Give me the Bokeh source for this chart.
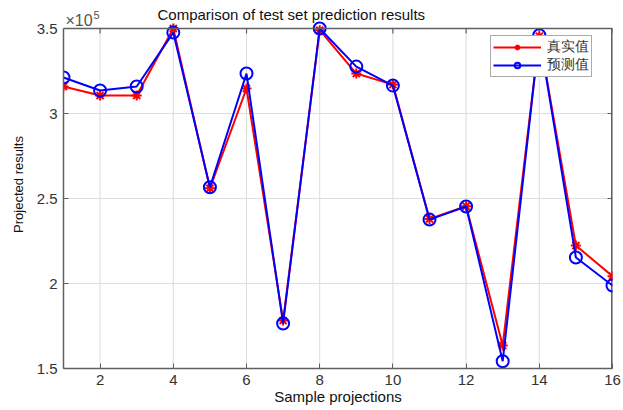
import math
from bokeh.plotting import figure
from bokeh.models import Legend, LegendItem, Label, Range1d, FixedTicker, Span
from bokeh.embed import file_html
from bokeh.resources import INLINE

# Test-set samples and values
samples = list(range(1, 17))
true_values = [315900, 310600, 310600, 350000, 256000, 314700, 178200, 349000,
               323500, 317000, 238000, 245500, 163500, 345500, 222300, 204300]
pred_values = [321200, 313500, 315900, 347600, 256600, 323500, 176500, 350000,
               327600, 316400, 237600, 245300, 154300, 346000, 215300, 198800]
x_ticks = [2, 4, 6, 8, 10, 12, 14, 16]
y_ticks = [1.5, 2.0, 2.5, 3.0, 3.5]
scale = 1e5

true_s = [v / scale for v in true_values]
pred_s = [v / scale for v in pred_values]

FONT = "Liberation Sans"
AXIS_COL = "#606060"

X_MIN, X_MAX = 1, 16
Y_MIN, Y_MAX = 1.5, 3.5
BOX_H = 340          # pixel height of the axes box
TOP_PAD = 28         # room above the box for title and exponent
y_top = Y_MAX + TOP_PAD * (Y_MAX - Y_MIN) / BOX_H

p = figure(width=623, height=410, output_backend="svg", toolbar_location=None,
           title=None, x_range=Range1d(X_MIN, X_MAX), y_range=Range1d(Y_MIN, y_top),
           min_border_left=63, min_border_right=11, min_border_top=0,
           min_border_bottom=42)
p.background_fill_color = "white"
p.outline_line_color = None

for ax in (p.xaxis[0], p.yaxis[0]):
    ax.major_tick_in = 5
    ax.major_tick_out = 0
    ax.minor_tick_in = 0
    ax.minor_tick_out = 0
    ax.axis_line_color = AXIS_COL
    ax.major_tick_line_color = AXIS_COL
    ax.axis_line_width = 1.5
    ax.major_label_text_font = FONT
    ax.major_label_text_font_size = "15px"
    ax.major_label_text_color = "#333333"
    ax.axis_label_text_font = FONT
    ax.axis_label_text_font_style = "normal"
    ax.axis_label_text_color = "#111111"

p.yaxis.bounds = (Y_MIN, Y_MAX)
p.xaxis.ticker = FixedTicker(ticks=x_ticks)
p.yaxis.ticker = FixedTicker(ticks=y_ticks)
p.yaxis.major_label_overrides = {2.0: "2", 3.0: "3", 1.5: "1.5", 2.5: "2.5", 3.5: "3.5"}
p.xaxis.axis_label = "Sample projections"
p.yaxis.axis_label = "Projected results"
p.xaxis.axis_label_text_font_size = "15px"
p.yaxis.axis_label_text_font_size = "13px"
p.xaxis.axis_label_standoff = 0
p.yaxis.axis_label_standoff = 8
p.xaxis.major_label_standoff = 6
p.yaxis.major_label_standoff = 6

# Grid: horizontal lines from the grid model, vertical lines only inside the box
GRID_COL = "#dddddd"
p.xgrid.visible = False
p.ygrid.ticker = FixedTicker(ticks=y_ticks)
p.ygrid.grid_line_color = GRID_COL
p.segment(x0=x_ticks, y0=[Y_MIN] * len(x_ticks), x1=x_ticks, y1=[Y_MAX] * len(x_ticks),
          line_color=GRID_COL, line_width=1)

# Top and right edges of the box, with inward ticks
p.add_layout(Span(location=Y_MAX, dimension="width", line_color=AXIS_COL, line_width=1.5))
p.segment(x0=[X_MAX], y0=[Y_MIN], x1=[X_MAX], y1=[Y_MAX], line_color=AXIS_COL, line_width=3)
p.ray(x=x_ticks, y=[Y_MAX] * len(x_ticks), length=5, length_units="screen",
      angle=-math.pi / 2, line_color=AXIS_COL, line_width=1.2)
p.ray(x=[X_MAX] * len(y_ticks), y=y_ticks, length=5, length_units="screen",
      angle=math.pi, line_color=AXIS_COL, line_width=1.2)

r_line = p.line(samples, true_s, line_color="red", line_width=2)
r_mark = p.scatter(samples, true_s, marker="asterisk", size=10, line_color="red", line_width=2)
b_line = p.line(samples, pred_s, line_color="blue", line_width=2)
b_mark = p.scatter(samples, pred_s, marker="circle", size=12, line_color="blue",
                   fill_color=None, line_width=2)

# Legend anchored by its lower-left corner, in pixels from the plot area's lower-left
legend = Legend(items=[LegendItem(label="真实值", renderers=[r_line, r_mark]),
                       LegendItem(label="预测值", renderers=[b_line, b_mark])],
                location=(427, 291), label_text_font="Liberation Serif",
                label_text_font_size="14px", label_text_color="#333333",
                glyph_width=48, glyph_height=14, label_height=14, spacing=0,
                padding=2, margin=0, border_line_color="#555555", border_line_width=1,
                background_fill_alpha=1, label_standoff=6)
p.add_layout(legend)

# Title and the ×10^5 exponent, placed in the strip above the box
px = (Y_MAX - Y_MIN) / BOX_H
p.add_layout(Label(x=X_MIN, x_offset=94, y=Y_MAX + 14 * px,
                   text="Comparison of test set prediction results",
                   text_align="left", text_baseline="middle", text_font=FONT,
                   text_font_size="15px", text_color="#111111"))
p.add_layout(Label(x=X_MIN, x_offset=2, y=Y_MAX + 8 * px, text="×10",
                   text_align="left", text_baseline="middle", text_font=FONT,
                   text_font_size="16px", text_color="#555555"))
p.add_layout(Label(x=X_MIN, x_offset=30, y=Y_MAX + 14 * px, text="5",
                   text_align="left", text_baseline="middle", text_font=FONT,
                   text_font_size="11px", text_color="#555555"))

open("out.html", "w").write(file_html(p, INLINE))
